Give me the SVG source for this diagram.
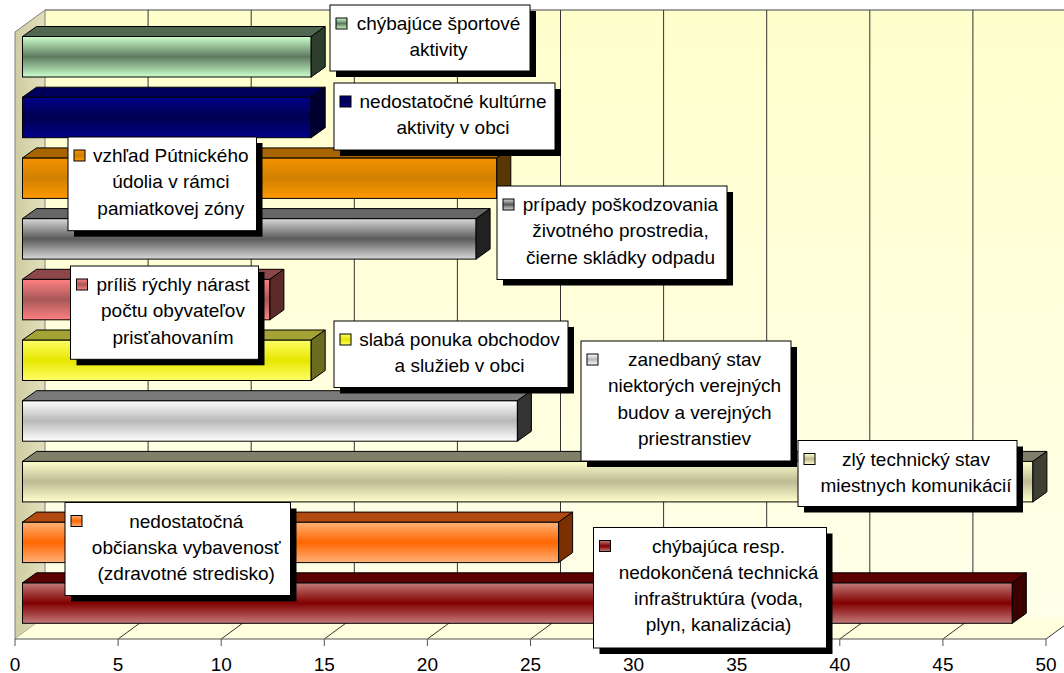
<svg xmlns="http://www.w3.org/2000/svg" width="1064" height="673" viewBox="0 0 1064 673">
<style>
.lbl{font-family:"Liberation Sans",Arial,sans-serif;font-size:19px;fill:#000;text-anchor:middle}
.box{fill:#fff;stroke:#000;stroke-width:1}
.shd{fill:#000}
.bar{stroke:#000;stroke-width:1}
.key{stroke:#000;stroke-width:1}
.grid{stroke:#333;stroke-width:1;fill:none}
.edge{stroke:#808080;stroke-width:1.5;fill:none}
</style>
<defs>
<linearGradient id="backw" x1="0" y1="0" x2="0" y2="1"><stop offset="0" stop-color="#FFFFCC"/><stop offset="1" stop-color="#FFFFEA"/></linearGradient>
<linearGradient id="sidew" x1="0" y1="0" x2="1" y2="0"><stop offset="0" stop-color="#CFCCA2"/><stop offset="1" stop-color="#E2E0BC"/></linearGradient>
<linearGradient id="g0" x1="0" y1="0" x2="0" y2="1"><stop offset="0" stop-color="#CCFFCC"/><stop offset="0.5" stop-color="#5E7A5E"/><stop offset="1" stop-color="#CCFFCC"/></linearGradient>
<linearGradient id="g1" x1="0" y1="0" x2="0" y2="1"><stop offset="0" stop-color="#000088"/><stop offset="0.5" stop-color="#000050"/><stop offset="1" stop-color="#000088"/></linearGradient>
<linearGradient id="g2" x1="0" y1="0" x2="0" y2="1"><stop offset="0" stop-color="#F59300"/><stop offset="0.5" stop-color="#D08000"/><stop offset="1" stop-color="#FF9900"/></linearGradient>
<linearGradient id="g3" x1="0" y1="0" x2="0" y2="1"><stop offset="0" stop-color="#D8D8D8"/><stop offset="0.5" stop-color="#5A5A5A"/><stop offset="1" stop-color="#D8D8D8"/></linearGradient>
<linearGradient id="g4" x1="0" y1="0" x2="0" y2="1"><stop offset="0" stop-color="#FF8080"/><stop offset="0.5" stop-color="#A85858"/><stop offset="1" stop-color="#FF8080"/></linearGradient>
<linearGradient id="g5" x1="0" y1="0" x2="0" y2="1"><stop offset="0" stop-color="#FFFF66"/><stop offset="0.5" stop-color="#E6E600"/><stop offset="1" stop-color="#FFFF66"/></linearGradient>
<linearGradient id="g6" x1="0" y1="0" x2="0" y2="1"><stop offset="0" stop-color="#FFFFFF"/><stop offset="0.5" stop-color="#B8B8B8"/><stop offset="1" stop-color="#FFFFFF"/></linearGradient>
<linearGradient id="g7" x1="0" y1="0" x2="0" y2="1"><stop offset="0" stop-color="#FFFFCC"/><stop offset="0.5" stop-color="#BDBA94"/><stop offset="1" stop-color="#FFFFCC"/></linearGradient>
<linearGradient id="g8" x1="0" y1="0" x2="0" y2="1"><stop offset="0" stop-color="#FFB27A"/><stop offset="0.5" stop-color="#FF6600"/><stop offset="1" stop-color="#FFB27A"/></linearGradient>
<linearGradient id="g9" x1="0" y1="0" x2="0" y2="1"><stop offset="0" stop-color="#C47A7A"/><stop offset="0.5" stop-color="#800000"/><stop offset="1" stop-color="#C47A7A"/></linearGradient>
</defs>
<rect width="1064" height="673" fill="#fff"/>
<g id="walls">
<rect x="45" y="10" width="1031" height="607" fill="url(#backw)"/>
<polygon points="15,32 45,10 45,617 15,639" fill="url(#sidew)" stroke="#808080" stroke-width="1"/>
<polygon points="15,639 45,617 1076,617 1046,639" fill="#FFFFDD"/>
<line class="edge" x1="45" y1="10" x2="1064" y2="10"/>
<g class="grid">
<line x1="148.1" y1="10" x2="148.1" y2="617"/><line x1="251.2" y1="10" x2="251.2" y2="617"/><line x1="354.3" y1="10" x2="354.3" y2="617"/><line x1="457.4" y1="10" x2="457.4" y2="617"/><line x1="560.5" y1="10" x2="560.5" y2="617"/><line x1="663.6" y1="10" x2="663.6" y2="617"/><line x1="766.7" y1="10" x2="766.7" y2="617"/><line x1="869.8" y1="10" x2="869.8" y2="617"/><line x1="972.9" y1="10" x2="972.9" y2="617"/>
<line x1="118.1" y1="639" x2="148.1" y2="617"/><line x1="221.2" y1="639" x2="251.2" y2="617"/><line x1="324.3" y1="639" x2="354.3" y2="617"/><line x1="427.4" y1="639" x2="457.4" y2="617"/><line x1="530.5" y1="639" x2="560.5" y2="617"/><line x1="633.6" y1="639" x2="663.6" y2="617"/><line x1="736.7" y1="639" x2="766.7" y2="617"/><line x1="839.8" y1="639" x2="869.8" y2="617"/><line x1="942.9" y1="639" x2="972.9" y2="617"/><line x1="1046" y1="639" x2="1076" y2="617"/>
</g>
</g>
<g id="axis">
<line x1="15" y1="639" x2="1046" y2="639" stroke="#555" stroke-width="1.2"/>
<g stroke="#555" stroke-width="1">
<line x1="15" y1="639" x2="15" y2="646"/><line x1="118.1" y1="639" x2="118.1" y2="646"/><line x1="221.2" y1="639" x2="221.2" y2="646"/><line x1="324.3" y1="639" x2="324.3" y2="646"/><line x1="427.4" y1="639" x2="427.4" y2="646"/><line x1="530.5" y1="639" x2="530.5" y2="646"/><line x1="633.6" y1="639" x2="633.6" y2="646"/><line x1="736.7" y1="639" x2="736.7" y2="646"/><line x1="839.8" y1="639" x2="839.8" y2="646"/><line x1="942.9" y1="639" x2="942.9" y2="646"/><line x1="1046" y1="639" x2="1046" y2="646"/>
</g>
<g class="lbl">
<text x="15" y="671">0</text><text x="118.1" y="671">5</text><text x="221.2" y="671">10</text><text x="324.3" y="671">15</text><text x="427.4" y="671">20</text><text x="530.5" y="671">25</text><text x="633.6" y="671">30</text><text x="736.7" y="671">35</text><text x="839.8" y="671">40</text><text x="942.9" y="671">45</text><text x="1046" y="671">50</text>
</g>
</g>
<g id="bar0" class="bar"><rect x="22.5" y="36.5" width="288.7" height="40.5" fill="url(#g0)"/><polygon points="22.5,36.5 311.2,36.5 325.2,26.5 36.5,26.5" fill="#50684F"/><polygon points="311.2,36.5 325.2,26.5 325.2,67 311.2,77" fill="#2E3E2E"/></g>
<g id="bar1" class="bar"><rect x="22.5" y="97.2" width="288.7" height="40.5" fill="url(#g1)"/><polygon points="22.5,97.2 311.2,97.2 325.2,87.2 36.5,87.2" fill="#00005A"/><polygon points="311.2,97.2 325.2,87.2 325.2,127.7 311.2,137.7" fill="#00002E"/></g>
<g id="bar2" class="bar"><rect x="22.5" y="157.9" width="474.3" height="40.5" fill="url(#g2)"/><polygon points="22.5,157.9 496.8,157.9 510.8,147.9 36.5,147.9" fill="#A86400"/><polygon points="496.8,157.9 510.8,147.9 510.8,188.4 496.8,198.4" fill="#5A3600"/></g>
<g id="bar3" class="bar"><rect x="22.5" y="218.6" width="453.6" height="40.5" fill="url(#g3)"/><polygon points="22.5,218.6 476.1,218.6 490.1,208.6 36.5,208.6" fill="#666666"/><polygon points="476.1,218.6 490.1,208.6 490.1,249.1 476.1,259.1" fill="#222222"/></g>
<g id="bar4" class="bar"><rect x="22.5" y="279.3" width="247.4" height="40.5" fill="url(#g4)"/><polygon points="22.5,279.3 269.9,279.3 283.9,269.3 36.5,269.3" fill="#8C4848"/><polygon points="269.9,279.3 283.9,269.3 283.9,309.8 269.9,319.8" fill="#5A2A2A"/></g>
<g id="bar5" class="bar"><rect x="22.5" y="340" width="288.7" height="40.5" fill="url(#g5)"/><polygon points="22.5,340 311.2,340 325.2,330 36.5,330" fill="#A3A336"/><polygon points="311.2,340 325.2,330 325.2,370.5 311.2,380.5" fill="#6B6B22"/></g>
<g id="bar6" class="bar"><rect x="22.5" y="400.7" width="494.9" height="40.5" fill="url(#g6)"/><polygon points="22.5,400.7 517.4,400.7 531.4,390.7 36.5,390.7" fill="#7A7A7A"/><polygon points="517.4,400.7 531.4,390.7 531.4,431.2 517.4,441.2" fill="#333333"/></g>
<g id="bar7" class="bar"><rect x="22.5" y="461.4" width="1010.4" height="40.5" fill="url(#g7)"/><polygon points="22.5,461.4 1032.9,461.4 1046.9,451.4 36.5,451.4" fill="#80806A"/><polygon points="1032.9,461.4 1046.9,451.4 1046.9,491.9 1032.9,501.9" fill="#3F3F33"/></g>
<g id="bar8" class="bar"><rect x="22.5" y="522.1" width="536.1" height="40.5" fill="url(#g8)"/><polygon points="22.5,522.1 558.6,522.1 572.6,512.1 36.5,512.1" fill="#B04A10"/><polygon points="558.6,522.1 572.6,512.1 572.6,552.6 558.6,562.6" fill="#7A3000"/></g>
<g id="bar9" class="bar"><rect x="22.5" y="582.8" width="989.8" height="40.5" fill="url(#g9)"/><polygon points="22.5,582.8 1012.3,582.8 1026.3,572.8 36.5,572.8" fill="#5A0000"/><polygon points="1012.3,582.8 1026.3,572.8 1026.3,613.3 1012.3,623.3" fill="#3C0000"/></g>
<g id="label0"><rect class="shd" x="336" y="11" width="200" height="66"/><rect class="box" x="330" y="5" width="200" height="66"/><rect class="key" x="336" y="18" width="11" height="11" fill="url(#g0)"/><text class="lbl" x="438.5" y="30">chýbajúce športové</text><text class="lbl" x="438.5" y="56.3">aktivity</text></g>
<g id="label1"><rect class="shd" x="340" y="89" width="221" height="67"/><rect class="box" x="334" y="83" width="221" height="67"/><rect class="key" x="340" y="96" width="11" height="11" fill="url(#g1)"/><text class="lbl" x="453" y="108">nedostatočné kultúrne</text><text class="lbl" x="453" y="134.3">aktivity v obci</text></g>
<g id="label2"><rect class="shd" x="74" y="143" width="188.5" height="93.7"/><rect class="box" x="68" y="137" width="188.5" height="93.7"/><rect class="key" x="74" y="150" width="11" height="11" fill="url(#g2)"/><text class="lbl" x="170.75" y="162">vzhľad Pútnického</text><text class="lbl" x="170.75" y="188.3">údolia v rámci</text><text class="lbl" x="170.75" y="214.6">pamiatkovej zóny</text></g>
<g id="label3"><rect class="shd" x="503" y="192" width="230" height="93.5"/><rect class="box" x="497" y="186" width="230" height="93.5"/><rect class="key" x="503" y="199" width="11" height="11" fill="url(#g3)"/><text class="lbl" x="620.5" y="211">prípady poškodzovania</text><text class="lbl" x="620.5" y="237.3">životného prostredia,</text><text class="lbl" x="620.5" y="263.6">čierne skládky odpadu</text></g>
<g id="label4"><rect class="shd" x="76.5" y="272" width="188" height="93.3"/><rect class="box" x="70.5" y="266" width="188" height="93.3"/><rect class="key" x="76.5" y="279" width="11" height="11" fill="url(#g4)"/><text class="lbl" x="173" y="291">príliš rýchly nárast</text><text class="lbl" x="173" y="317.3">počtu obyvateľov</text><text class="lbl" x="173" y="343.6">prisťahovaním</text></g>
<g id="label5"><rect class="shd" x="340" y="327" width="234" height="66.5"/><rect class="box" x="334" y="321" width="234" height="66.5"/><rect class="key" x="340" y="334" width="11" height="11" fill="url(#g5)"/><text class="lbl" x="459.5" y="346">slabá ponuka obchodov</text><text class="lbl" x="459.5" y="372.3">a služieb v obci</text></g>
<g id="label6"><rect class="shd" x="587" y="347" width="210" height="120"/><rect class="box" x="581" y="341" width="210" height="120"/><rect class="key" x="587" y="354" width="11" height="11" fill="url(#g6)"/><text class="lbl" x="694.5" y="366">zanedbaný stav</text><text class="lbl" x="694.5" y="392.3">niektorých verejných</text><text class="lbl" x="694.5" y="418.6">budov a verejných</text><text class="lbl" x="694.5" y="444.9">priestranstiev</text></g>
<g id="label7"><rect class="shd" x="804" y="446.5" width="219" height="66"/><rect class="box" x="798" y="440.5" width="219" height="66"/><rect class="key" x="804" y="453.5" width="11" height="11" fill="url(#g7)"/><text class="lbl" x="916" y="465.5">zlý technický stav</text><text class="lbl" x="916" y="491.8">miestnych komunikácií</text></g>
<g id="label8"><rect class="shd" x="71" y="508.5" width="225.5" height="93"/><rect class="box" x="65" y="502.5" width="225.5" height="93"/><rect class="key" x="71" y="515.5" width="11" height="11" fill="url(#g8)"/><text class="lbl" x="186.25" y="527.5">nedostatočná</text><text class="lbl" x="186.25" y="553.8">občianska vybavenosť</text><text class="lbl" x="186.25" y="580.1">(zdravotné stredisko)</text></g>
<g id="label9"><rect class="shd" x="599.5" y="533.5" width="233" height="120.5"/><rect class="box" x="593.5" y="527.5" width="233" height="120.5"/><rect class="key" x="599.5" y="540.5" width="11" height="11" fill="url(#g9)"/><text class="lbl" x="718.5" y="552.5">chýbajúca resp.</text><text class="lbl" x="718.5" y="578.8">nedokončená technická</text><text class="lbl" x="718.5" y="605.1">infraštruktúra (voda,</text><text class="lbl" x="718.5" y="631.4">plyn, kanalizácia)</text></g>
</svg>
